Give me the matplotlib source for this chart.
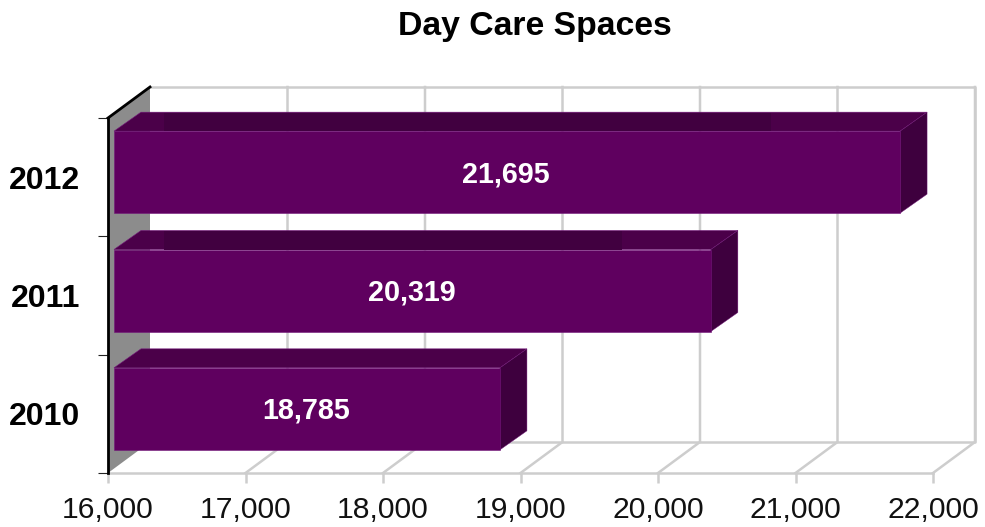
import matplotlib
matplotlib.use('Agg')
import matplotlib.pyplot as plt
from matplotlib.patches import Polygon

plt.rcParams['font.family'] = ['Liberation Sans', 'DejaVu Sans']

years = ['2010', '2011', '2012']
spaces = [18785, 20319, 21695]
x_ticks = [16000, 17000, 18000, 19000, 20000, 21000, 22000]

W, H = 985, 527
L, R, T, B = 108, 933, 118, 473  # front frame of the 3d box, in pixels
px_x = 6000 / (R - L)  # data units per pixel
px_y = 3 / (B - T)

GRID = '#cdcdcd'
FRONT = '#5f005f'
TOP = '#4b0049'
TOP_DARK = '#410040'
SIDE = '#3e003e'
EDGE = '#73187a'

fig = plt.figure(figsize=(W / 100, H / 100), dpi=100)
ax = fig.add_axes([L / W, 1 - B / H, (R - L) / W, (B - T) / H])
ax.set_xlim(x_ticks[0], x_ticks[-1])
ax.set_ylim(-0.5, 2.5)

# depth of the box and of the bars
box_dx, box_dy = 42 * px_x, 31 * px_y
bar_dx, bar_dy = 27 * px_x, 19 * px_y
x0, x1 = x_ticks[0], x_ticks[-1]
y0, y1 = -0.5, 2.5

# back wall and floor
ax.plot([x0 + box_dx, x1 + box_dx, x1 + box_dx, x0 + box_dx],
        [y1 + box_dy, y1 + box_dy, y0 + box_dy, y0 + box_dy],
        color=GRID, lw=1.8, clip_on=False, zorder=1)
for v in x_ticks[1:]:
    ax.plot([v, v + box_dx, v + box_dx], [y0, y0 + box_dy, y1 + box_dy],
            color=GRID, lw=1.8, clip_on=False, zorder=1)

# grey left wall
ax.add_patch(Polygon([(x0, y0), (x0 + box_dx, y0 + box_dy),
                      (x0 + box_dx, y1 + box_dy), (x0, y1)],
                     facecolor='#8c8c8c', edgecolor='none', clip_on=False, zorder=2))
ax.plot([x0, x0 + box_dx], [y1, y1 + box_dy], color='black', lw=2, clip_on=False, zorder=3)

# bars
bar_h = 82 * px_y
shift_y = 5 * px_y
shift_x = 6 * px_x
end_x = 9 * px_x
band_start = 16410
band_end = {'2011': 19740, '2012': 20825}
for i, (year, val) in enumerate(zip(years, spaces)):
    left = x0 + shift_x
    right = val + end_x
    yc = i + shift_y
    bot, top = yc - bar_h / 2, yc + bar_h / 2
    ax.barh(yc, right - left, height=bar_h, left=left, color=FRONT,
            edgecolor=EDGE, linewidth=0.4, clip_on=False, zorder=5)
    ax.add_patch(Polygon([(left, top), (left + bar_dx, top + bar_dy),
                          (right + bar_dx, top + bar_dy), (right, top)],
                         facecolor=TOP, edgecolor=EDGE, linewidth=0.4, clip_on=False, zorder=4))
    ax.add_patch(Polygon([(right, bot), (right + bar_dx, bot + bar_dy),
                          (right + bar_dx, top + bar_dy), (right, top)],
                         facecolor=SIDE, edgecolor=EDGE, linewidth=0.3, clip_on=False, zorder=4))
    if year in band_end:
        ax.fill_between([band_start, band_end[year]], top, top + bar_dy - 0.004,
                        color=TOP_DARK, linewidth=0, clip_on=False, zorder=4.5)
    ax.text((left + right) / 2 - 1 * px_x, yc - 2 * px_y, f'{val:,}', color='white',
            fontsize=20.7, fontweight='bold', ha='center', va='center', zorder=6)

for s in ['top', 'right']:
    ax.spines[s].set_visible(False)
ax.spines['bottom'].set_color(GRID)
ax.spines['bottom'].set_linewidth(1.8)
ax.spines['bottom'].set_zorder(1)
ax.spines['left'].set_color('black')
ax.spines['left'].set_linewidth(2)
ax.spines['left'].set_zorder(7)

ax.set_xticks(x_ticks)
ax.set_xticklabels([f'{v:,}' for v in x_ticks], fontsize=21.7)
ax.tick_params(axis='x', color=GRID, width=1.8, length=7, pad=9.5, labelcolor='#111111')
ax.set_yticks(range(3))
ax.set_yticklabels(years, fontsize=23, fontweight='bold')
ax.set_yticks([-0.5, 0.5, 1.5, 2.5], minor=True)
ax.tick_params(axis='y', which='major', length=0, pad=20)
ax.tick_params(axis='y', which='minor', length=7, width=0.8, color='#222222')

fig.text(535 / W, 1 - 27 / H, 'Day Care Spaces', fontsize=24.3, fontweight='bold',
         ha='center', va='center')

fig.savefig('out.png', dpi=100)
